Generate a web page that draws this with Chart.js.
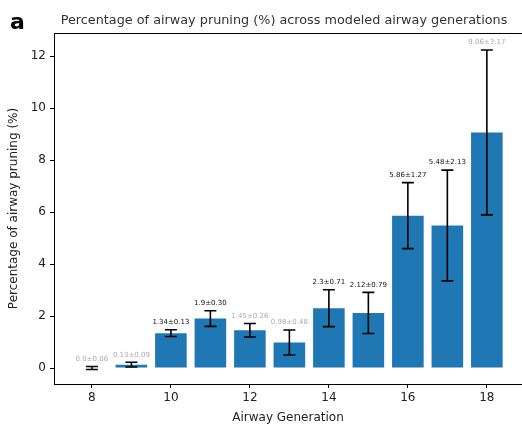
<!DOCTYPE html>
<html>
<head>
<meta charset="utf-8">
<script src="https://cdn.jsdelivr.net/npm/chart.js@4"></script>
<style>
  html, body { margin: 0; padding: 0; background: #fff; }
  #wrap { position: relative; width: 522px; height: 425px; }
  #panel { position: absolute; left: 10px; top: 9px; font: bold 22px "DejaVu Sans", sans-serif; color: #000; }
</style>
</head>
<body>
<div id="wrap">
  <canvas id="c" width="522" height="425"></canvas>
  <div id="panel">a</div>
</div>
<script>
  const generations = [8, 9, 10, 11, 12, 13, 14, 15, 16, 17, 18];
  const pruning = [0.0, 0.13, 1.34, 1.9, 1.45, 0.98, 2.3, 2.12, 5.86, 5.48, 9.06];
  const pruningSd = [0.06, 0.09, 0.13, 0.30, 0.26, 0.48, 0.71, 0.79, 1.27, 2.13, 3.17];
  const valueLabels = ['0.0±0.06', '0.13±0.09', '1.34±0.13', '1.9±0.30', '1.45±0.26', '0.98±0.48',
                       '2.3±0.71', '2.12±0.79', '5.86±1.27', '5.48±2.13', '9.06±3.17'];
  const xTicks = [8, 10, 12, 14, 16, 18];
  const yTicks = [0, 2, 4, 6, 8, 10, 12];

  // some labels in the figure are drawn faint
  const labelColors = ['#aaa', '#aaa', '#111', '#111', '#aaa', '#aaa', '#111', '#111', '#111', '#111', '#aaa'];

  const FONT = '"DejaVu Sans", sans-serif';

  const errorBars = {
    id: 'errorBars',
    afterDatasetsDraw(chart) {
      const ctx = chart.ctx;
      const xs = chart.scales.x, ys = chart.scales.y;
      ctx.save();
      ctx.strokeStyle = '#000';
      ctx.lineWidth = 1.6;
      generations.forEach((g, i) => {
        const x = xs.getPixelForValue(g);
        const top = ys.getPixelForValue(pruning[i] + pruningSd[i]);
        const bot = ys.getPixelForValue(pruning[i] - pruningSd[i]);
        ctx.beginPath();
        ctx.moveTo(x, top); ctx.lineTo(x, bot);
        ctx.moveTo(x - 6, top); ctx.lineTo(x + 6, top);
        ctx.moveTo(x - 6, bot); ctx.lineTo(x + 6, bot);
        ctx.stroke();
        ctx.fillStyle = labelColors[i];
        ctx.font = '7px ' + FONT;
        ctx.textAlign = 'center';
        ctx.textBaseline = 'bottom';
        ctx.fillText(valueLabels[i], x, top - 4);
      });
      // top spine + title
      const a = chart.chartArea;
      ctx.beginPath();
      ctx.lineWidth = 1;
      ctx.moveTo(a.left, a.top + 0.5); ctx.lineTo(a.right, a.top + 0.5);
      ctx.stroke();
      ctx.fillStyle = '#333';
      ctx.font = '12.8px ' + FONT;
      ctx.textBaseline = 'alphabetic';
      ctx.fillText('Percentage of airway pruning (%) across modeled airway generations', 284, 24);
      ctx.restore();
    }
  };

  new Chart(document.getElementById('c'), {
    type: 'bar',
    data: {
      datasets: [{
        data: generations.map((g, i) => ({ x: g, y: pruning[i] })),
        backgroundColor: '#1f77b4',
        borderWidth: 0,
        barPercentage: 0.8,
        categoryPercentage: 1.0
      }]
    },
    options: {
      responsive: false,
      animation: false,
      layout: { padding: { top: 33, right: 0, left: 0, bottom: 0 } },
      plugins: { legend: { display: false }, tooltip: { enabled: false }, title: { display: false } },
      scales: {
        x: {
          type: 'linear',
          offset: false,
          min: 7.04,
          max: 18.89,
          afterBuildTicks: s => { s.ticks = xTicks.map(v => ({ value: v })); },
          afterFit: s => { s.height = 41; },
          grid: { offset: false, drawOnChartArea: false, drawTicks: true, tickLength: 4, color: '#000' },
          border: { display: true, color: '#000', width: 1 },
          ticks: { color: '#222', font: { family: FONT, size: 12 }, padding: 3, maxRotation: 0 },
          title: { display: true, text: 'Airway Generation', color: '#222', font: { family: FONT, size: 12 }, padding: { top: 1, bottom: 0 } }
        },
        y: {
          min: -0.615,
          max: 12.885,
          afterBuildTicks: s => { s.ticks = yTicks.map(v => ({ value: v })); },
          afterFit: s => { s.width = 54; },
          grid: { drawOnChartArea: false, drawTicks: true, tickLength: 4, color: '#000' },
          border: { display: true, color: '#000', width: 1 },
          ticks: { color: '#222', font: { family: FONT, size: 12 }, padding: 4 },
          title: { display: true, text: 'Percentage of airway pruning (%)', color: '#222', font: { family: FONT, size: 12 }, padding: { top: 7, bottom: 4 } }
        }
      }
    },
    plugins: [errorBars]
  });
</script>
</body>
</html>
